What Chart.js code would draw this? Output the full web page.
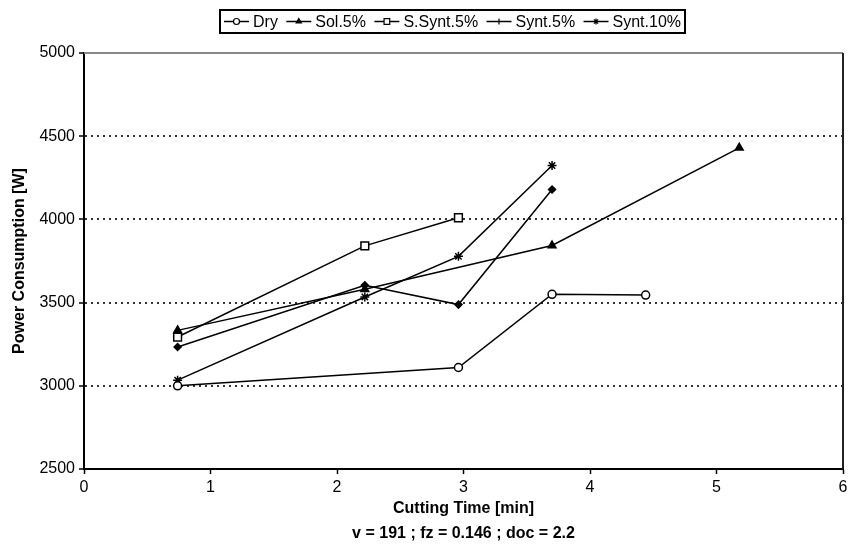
<!DOCTYPE html>
<html>
<head>
<meta charset="utf-8">
<script src="https://cdn.jsdelivr.net/npm/chart.js@4/dist/chart.umd.min.js"></script>
<style>
  html, body { margin: 0; padding: 0; background: #fff; }
  canvas { display: block; }
</style>
</head>
<body>
<canvas id="powerChart" width="860" height="545"></canvas>
<script>
// data
const seriesNames = ['Dry', 'Sol.5%', 'S.Synt.5%', 'Synt.5%', 'Synt.10%'];

const dryTime = [0.74, 2.96, 3.70, 4.44];
const dryPower = [3000, 3110, 3550, 3545];

const solTime = [0.74, 2.22, 3.70, 5.18];
const solPower = [3333, 3580, 3843, 4430];

const sSyntTime = [0.74, 2.22, 2.96];
const sSyntPower = [3293, 3841, 4010];

const synt5Time = [0.74, 2.22, 2.96, 3.70];
const synt5Power = [3233, 3604, 3488, 4180];

const synt10Time = [0.74, 2.22, 2.96, 3.70];
const synt10Power = [3034, 3534, 3778, 4324];

const yTicks = [2500, 3000, 3500, 4000, 4500, 5000];
const xTicks = [0, 1, 2, 3, 4, 5, 6];

const xTitle = 'Cutting Time [min]';
const yTitle = 'Power Consumption [W]';
const subTitle = 'v = 191 ; fz = 0.146 ; doc = 2.2';

const FONT = '"Liberation Sans", Arial, sans-serif';

function toPoints(xs, ys) {
    return xs.map((x, i) => ({ x: x, y: ys[i] }));
}

function series(label, xs, ys, style, fill, extra) {
    return Object.assign({
        label: label,
        data: toPoints(xs, ys),
        borderColor: '#000',
        borderWidth: 1.5,
        pointStyle: style,
        pointRadius: 4,
        pointBackgroundColor: fill,
        pointBorderColor: '#000',
        pointBorderWidth: 1.5,
        fill: false,
        tension: 0
    }, extra || {});
}

// legend box drawn like the original (line + marker + label)
const boxLegend = {
    id: 'boxLegend',
    afterDraw(chart) {
        const ctx = chart.ctx;
        const left = 220, right = 685, top = 10, bottom = 33;
        ctx.save();
        ctx.lineWidth = 2;
        ctx.strokeStyle = '#000';
        ctx.strokeRect(left, top, right - left, bottom - top);

        ctx.font = '16px ' + FONT;
        const lineLen = 25, gapText = 4;
        const items = chart.data.datasets.map(ds => ({
            ds: ds,
            w: lineLen + gapText + ctx.measureText(ds.label).width
        }));
        const total = items.reduce((s, it) => s + it.w, 0);
        const pad = 4;
        const gap = (right - left - 2 * pad - total) / (items.length - 1);
        let x = left + pad;
        const cy = (top + bottom) / 2;
        items.forEach(it => {
            const ds = it.ds;
            ctx.strokeStyle = '#000';
            ctx.lineWidth = 1.5;
            ctx.beginPath();
            ctx.moveTo(x, cy);
            ctx.lineTo(x + lineLen, cy);
            ctx.stroke();
            ctx.fillStyle = ds.pointBackgroundColor;
            ctx.strokeStyle = '#000';
            ctx.lineWidth = 1.2;
            Chart.helpers.drawPoint(ctx, {
                pointStyle: ds.legendPointStyle || ds.pointStyle,
                radius: ds.pointStyle === 'rect' ? 4 : 3,
                rotation: 0,
                borderWidth: 1.2
            }, x + lineLen / 2, cy);
            ctx.fillStyle = '#000';
            ctx.textAlign = 'left';
            ctx.textBaseline = 'middle';
            ctx.fillText(ds.label, x + lineLen + gapText, cy + 1);
            x += it.w + gap;
        });
        ctx.restore();
    }
};

// frame around the plot and the axis titles
const frameAndTitles = {
    id: 'frameAndTitles',
    afterDraw(chart) {
        const ctx = chart.ctx;
        const a = chart.chartArea;
        ctx.save();
        ctx.lineWidth = 2;
        ctx.strokeStyle = '#888';
        ctx.beginPath();
        ctx.moveTo(a.left, a.top);
        ctx.lineTo(a.right, a.top);
        ctx.stroke();
        ctx.strokeStyle = '#222';
        ctx.beginPath();
        ctx.moveTo(a.right, a.top);
        ctx.lineTo(a.right, a.bottom);
        ctx.stroke();

        ctx.fillStyle = '#000';
        ctx.font = 'bold 16px ' + FONT;
        ctx.textAlign = 'center';
        ctx.textBaseline = 'middle';
        const cx = (a.left + a.right) / 2;
        ctx.fillText(xTitle, cx, 509);
        ctx.fillText(subTitle, cx, 534);

        ctx.translate(20, (a.top + a.bottom) / 2);
        ctx.rotate(-Math.PI / 2);
        ctx.fillText(yTitle, 0, 0);
        ctx.restore();
    }
};

const datasets = [
    series(seriesNames[0], dryTime, dryPower, 'circle', '#fff'),
    series(seriesNames[1], solTime, solPower, 'triangle', '#000', { pointRadius: 4.5 }),
    series(seriesNames[2], sSyntTime, sSyntPower, 'rect', '#fff', { pointRadius: 5.5 }),
    series(seriesNames[3], synt5Time, synt5Power, 'rectRot', '#000', { legendPointStyle: 'cross', pointRadius: 3.5 }),
    series(seriesNames[4], synt10Time, synt10Power, 'star', '#000', { pointRadius: 4.5 })
];

const ctx = document.getElementById('powerChart').getContext('2d');
new Chart(ctx, {
    type: 'line',
    data: { datasets: datasets },
    options: {
        responsive: false,
        devicePixelRatio: 1,
        animation: false,
        layout: { padding: { top: 53, right: 17, left: 0, bottom: 0 } },
        plugins: {
            legend: { display: false },
            title: { display: false },
            tooltip: { enabled: false }
        },
        scales: {
            x: {
                type: 'linear',
                min: xTicks[0],
                max: xTicks[xTicks.length - 1],
                afterBuildTicks: s => { s.ticks = xTicks.map(v => ({ value: v })); },
                afterFit: s => { s.height = 76; },
                ticks: {
                    color: '#000',
                    font: { family: FONT, size: 16 },
                    padding: 4,
                    maxRotation: 0,
                    callback: v => String(v)
                },
                grid: {
                    drawOnChartArea: false,
                    drawTicks: true,
                    tickLength: 5,
                    tickColor: '#000',
                    tickWidth: 1.5
                },
                border: { display: true, color: '#000', width: 2 }
            },
            y: {
                min: yTicks[0],
                max: yTicks[yTicks.length - 1],
                afterBuildTicks: s => { s.ticks = yTicks.map(v => ({ value: v })); },
                afterFit: s => { s.width = 84; },
                ticks: {
                    color: '#000',
                    font: { family: FONT, size: 16 },
                    padding: 4,
                    callback: v => String(v)
                },
                grid: {
                    color: c => (c.tick && (c.tick.value === yTicks[0] || c.tick.value === yTicks[yTicks.length - 1])) ? 'rgba(0,0,0,0)' : '#333',
                    lineWidth: 2,
                    drawTicks: true,
                    tickLength: 5,
                    tickColor: '#000',
                    tickWidth: 1.5,
                    tickBorderDash: []
                },
                border: { display: true, color: '#000', width: 2, dash: [2, 4] }
            }
        }
    },
    plugins: [boxLegend, frameAndTitles]
});
</script>
</body>
</html>
